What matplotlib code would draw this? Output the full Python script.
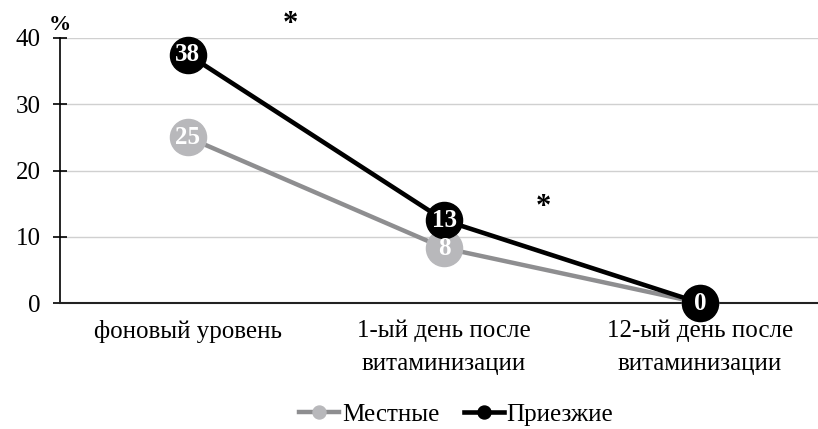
import numpy as np
import matplotlib.pyplot as plt

plt.rcParams['font.family'] = ['Liberation Serif', 'DejaVu Serif']

categories = ["фоновый уровень", "1-ый день после\nвитаминизации", "12-ый день после\nвитаминизации"]
local_vals = [25, 8.3, 0]
local_labels = ["25", "8", "0"]
arrived_vals = [37.5, 12.5, 0]
arrived_labels = ["38", "13", "0"]

fig = plt.figure(figsize=(8.18, 4.29), dpi=100)
ax = fig.add_axes([60 / 818, 1 - 303 / 429, 768 / 818, 265 / 429])

x = np.arange(len(categories))

ax.plot(x, local_vals, color='#8e8e90', lw=3.2, marker='o', ms=26,
        mfc='#b8b8bb', mec='#b8b8bb', label='Местные', zorder=3, clip_on=False)
ax.plot(x, arrived_vals, color='black', lw=3.3, marker='o', ms=26,
        mfc='black', mec='black', label='Приезжие', zorder=4, clip_on=False)

for xi, v, t in zip(x, local_vals, local_labels):
    if v > 0:
        ax.text(xi, v, t, color='white', fontsize=18, fontweight='bold',
                ha='center', va='center', zorder=5)
for xi, v, t in zip(x, arrived_vals, arrived_labels):
    ax.text(xi, v, t, color='white', fontsize=18, fontweight='bold',
            ha='center', va='center', zorder=5)

# significance markers
ax.text(0.4, 42.0, '*', fontsize=22, fontweight='bold', ha='center', va='center', clip_on=False)
ax.text(1.39, 14.4, '*', fontsize=22, fontweight='bold', ha='center', va='center')

ax.set_xlim(-0.5, 2.5)
ax.set_ylim(0, 40)
ax.set_yticks([0, 10, 20, 30, 40])
ax.set_xticks(x)
ax.set_xticklabels(categories, fontsize=18, linespacing=1.65)
ax.tick_params(axis='x', length=0, pad=12)
ax.tick_params(axis='y', labelsize=18, direction='inout', length=10, width=1.2, pad=9)
ax.grid(axis='y', color='#d0d0d0', lw=1)
ax.set_axisbelow(True)

for s in ['top', 'right']:
    ax.spines[s].set_visible(False)
ax.spines['left'].set_linewidth(1.2)
ax.spines['bottom'].set_linewidth(1.5)
ax.spines['bottom'].set_color('#222222')

ax.text(-0.015, 1.01, '%', transform=ax.transAxes, fontsize=16, fontweight='bold',
        ha='left', va='bottom')

ax.legend(loc='center', bbox_to_anchor=(0.516, -0.42), ncol=2, frameon=False,
          fontsize=18, markerscale=0.36, handlelength=1.6, handletextpad=0.1,
          columnspacing=1.0)

fig.savefig('out.png', dpi=100)
